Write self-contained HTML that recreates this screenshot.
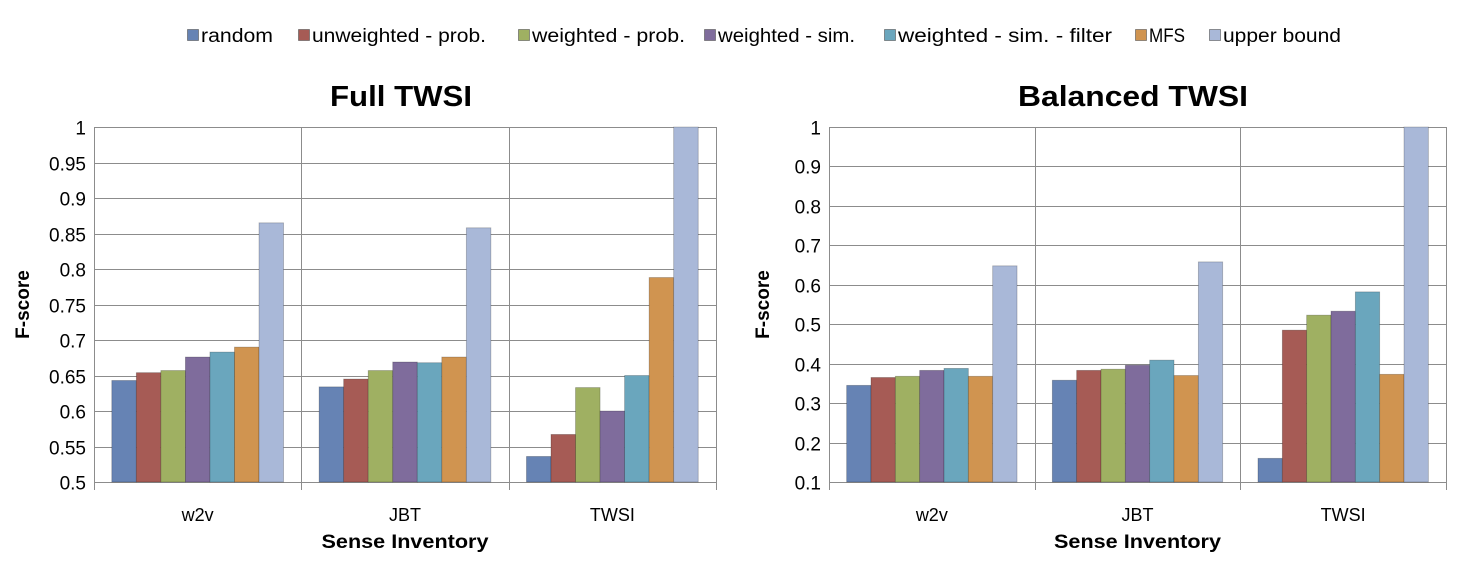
<!DOCTYPE html>
<html><head><meta charset="utf-8"><style>
body{margin:0;background:#fff}
svg{display:block;font-family:"Liberation Sans",sans-serif}
</style></head><body>
<svg id="svg" width="1468" height="566"></svg>
<script>
const seriesNames=["random","unweighted - prob.","weighted - prob.","weighted - sim.","weighted - sim. - filter","MFS","upper bound"];
const categories=["w2v","JBT","TWSI"];
const fullValues=[[0.643,0.654,0.657,0.676,0.683,0.690,0.865],[0.634,0.645,0.657,0.669,0.668,0.676,0.858],[0.536,0.567,0.633,0.600,0.650,0.788,1.0]];
const balValues=[[0.345,0.365,0.368,0.383,0.388,0.368,0.648],[0.358,0.383,0.386,0.396,0.409,0.370,0.658],[0.160,0.485,0.523,0.533,0.582,0.373,1.0]];
const fullTicks=["0.5","0.55","0.6","0.65","0.7","0.75","0.8","0.85","0.9","0.95","1"];
const balTicks=["0.1","0.2","0.3","0.4","0.5","0.6","0.7","0.8","0.9","1"];
const colors=["#6683b4","#a65b55","#9fb062","#7f6c9c","#6aa6bd","#d09450","#a9b8d8"];
const legendX=[187,298,518,704,884,1135,1209];
const legendW=[72,174,153,137,214,36,118];
const NS="http://www.w3.org/2000/svg";
const svg=document.getElementById('svg');
function mk(tag,attrs,parent,text){const e=document.createElementNS(NS,tag);for(const k in attrs)e.setAttribute(k,attrs[k]);if(text!==undefined)e.textContent=text;(parent||svg).appendChild(e);return e;}
const lg=mk('g',{});


seriesNames.forEach((n,i)=>{
  const g=mk('g',{},lg);
  
  
  mk('rect',{x:legendX[i]+0.5,y:29.5,width:11,height:11,fill:colors[i],stroke:'#555','stroke-width':0.6},g);
  mk('text',{x:legendX[i]+14,y:42,'font-size':19,fill:'#000',textLength:legendW[i],lengthAdjust:'spacingAndGlyphs'},g,n);
});
function chart(x0,x1,yTop,yBot,vals,ticks,min,max,title,titleX,titleW,name){
  const g=mk('g',{});
  
  
  const y=v=>yBot-(v-min)/(max-min)*(yBot-yTop);
  const cw=(x1-x0)/categories.length;
  ticks.forEach(t=>{
    const yy=Math.round(y(parseFloat(t)))+0.5;
    mk('line',{x1:x0,x2:x1,y1:yy,y2:yy,stroke:'#8c8c8c','stroke-width':1},g);
    const tl=mk('text',{x:x0-8,y:yy+7,'font-size':19,'text-anchor':'end',fill:'#000'},g,t);
    
    
  });
  for(let c=0;c<=categories.length;c++){
    const xx=Math.round(x0+c*cw)+0.5;
    mk('line',{x1:xx,x2:xx,y1:yTop,y2:yBot+8,stroke:'#8c8c8c','stroke-width':1},g);
  }
  const bw=cw/8.45, pad=(cw-7*bw)/2;
  vals.forEach((arr,c)=>{
    arr.forEach((v,i)=>{
      const bx=x0+c*cw+pad+i*bw;
      const r=mk('rect',{x:bx,y:y(v),width:bw,height:yBot-y(v),fill:colors[i],stroke:'rgba(0,0,0,0.25)','stroke-width':0.8},g);
      
      
    });
    const cl=mk('text',{x:x0+c*cw+cw/2,y:521,'font-size':18,'text-anchor':'middle',fill:'#000'},g,categories[c]);
    
    
  });
  const t=mk('text',{x:titleX,y:106,'font-size':29,'font-weight':'bold',fill:'#000',textLength:titleW,lengthAdjust:'spacingAndGlyphs'},g,title);
  
  
  const xt=mk('text',{x:(x0+x1)/2,y:548,'font-size':19,'font-weight':'bold','text-anchor':'middle',fill:'#000',textLength:167,lengthAdjust:'spacingAndGlyphs'},g,'Sense Inventory');
  
  
  const cy=(yTop+yBot)/2, tx=x0-(x0>700?60:65);
  const yt=mk('text',{x:tx,y:cy,'font-size':19,'font-weight':'bold','text-anchor':'middle',fill:'#000',transform:`rotate(-90 ${tx} ${cy})`},g,'F-score');
  
  
}
chart(94,716,127,482,fullValues,fullTicks,0.5,1,'Full TWSI',330,142,'full-twsi-chart');
chart(829,1446,127,482,balValues,balTicks,0.1,1,'Balanced TWSI',1018,230,'balanced-twsi-chart');
</script>
</body></html>
